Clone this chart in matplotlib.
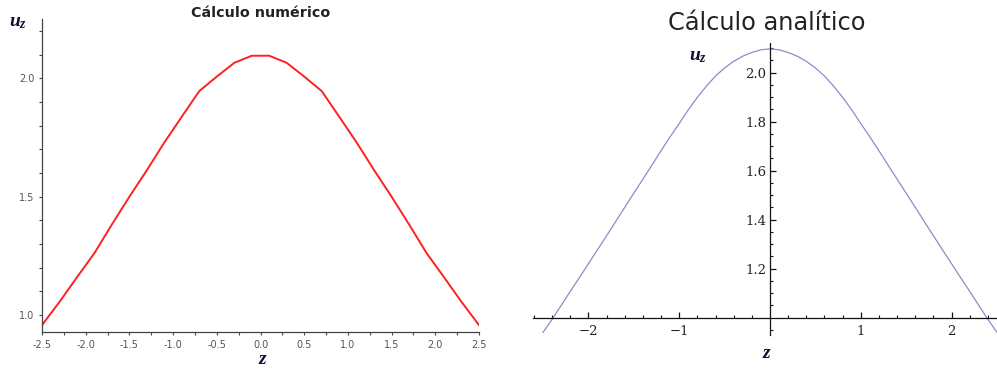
import numpy as np
import matplotlib
matplotlib.use("Agg")
import matplotlib.pyplot as plt
from matplotlib.ticker import MultipleLocator, FixedLocator

plt.rcParams['mathtext.fontset'] = 'custom'
plt.rcParams['mathtext.it'] = 'Liberation Serif:italic:bold'
plt.rcParams['mathtext.rm'] = 'Liberation Serif:bold'

# numeric solution (left)
z_num = [-2.5, -2.3, -2.1, -1.9, -1.7, -1.5, -1.3, -1.1, -0.9, -0.7, -0.5, -0.3, -0.1,
         0.1, 0.3, 0.5, 0.7, 0.9, 1.1, 1.3, 1.5, 1.7, 1.9, 2.1, 2.3, 2.5]
u_num = [0.958, 1.056, 1.160, 1.262, 1.383, 1.500, 1.612, 1.729, 1.838, 1.946, 2.007, 2.065, 2.095,
         2.095, 2.065, 2.007, 1.946, 1.838, 1.729, 1.612, 1.500, 1.383, 1.262, 1.160, 1.056, 0.958]

# analytic solution (right)
z_an = [-2.5, -2.4, -2.3, -2.2, -2.1, -2.0, -1.9, -1.8, -1.7, -1.6, -1.5, -1.4, -1.3,
        -1.2, -1.1, -1.0, -0.9, -0.8, -0.7, -0.6, -0.5, -0.4, -0.3, -0.2, -0.1, 0.0,
        0.1, 0.2, 0.3, 0.4, 0.5, 0.6, 0.7, 0.8, 0.9, 1.0, 1.1, 1.2, 1.3,
        1.4, 1.5, 1.6, 1.7, 1.8, 1.9, 2.0, 2.1, 2.2, 2.3, 2.4, 2.5]
u_an = [0.940, 0.993, 1.050, 1.107, 1.163, 1.220, 1.277, 1.334, 1.392, 1.450, 1.508, 1.565, 1.623,
        1.681, 1.738, 1.792, 1.848, 1.899, 1.945, 1.986, 2.019, 2.046, 2.067, 2.082, 2.093, 2.097,
        2.093, 2.082, 2.067, 2.046, 2.019, 1.986, 1.945, 1.899, 1.848, 1.792, 1.738, 1.681, 1.623,
        1.565, 1.508, 1.450, 1.392, 1.334, 1.277, 1.220, 1.163, 1.107, 1.050, 0.993, 0.940]

left_xticks = [-2.5, -2.0, -1.5, -1.0, -0.5, 0.0, 0.5, 1.0, 1.5, 2.0, 2.5]
left_yticks = [1.0, 1.5, 2.0]
right_xticks = [-2, -1, 1, 2]
right_xlabels = ['\u22122', '\u22121', '1', '2']
right_yticks = [1.2, 1.4, 1.6, 1.8, 2.0]

W, H = 997, 370
fig = plt.figure(figsize=(W / 100, H / 100), dpi=100)

# ---- left panel (Maple look) ----
ax1 = fig.add_axes([42 / W, 1 - 332 / H, 437 / W, 313 / H])
ax1.plot(z_num, u_num, color='#ff2020', lw=1.4)
ax1.set_xlim(-2.5, 2.5)
ax1.set_ylim(0.929, 2.25)
for s in ['top', 'right']:
    ax1.spines[s].set_visible(False)
for s in ['left', 'bottom']:
    ax1.spines[s].set_color('#444444')
    ax1.spines[s].set_linewidth(0.9)
ax1.set_xticks(left_xticks)
ax1.set_xticklabels(['%.1f' % v for v in left_xticks])
ax1.xaxis.set_minor_locator(MultipleLocator(0.25))
ax1.set_yticks(left_yticks)
ax1.set_yticklabels(['%.1f' % v for v in left_yticks])
ax1.yaxis.set_minor_locator(MultipleLocator(0.1))
ax1.tick_params(which='both', direction='out', length=2.5, width=0.8, color='#444444',
                labelsize=7, labelcolor='#555555')
ax1.tick_params(axis='x', pad=3.5)
ax1.tick_params(axis='y', pad=3)
fig.text(261 / W, 1 - 13 / H, 'Cálculo numérico', ha='center', va='center',
         fontsize=10.3, fontweight='bold', color='#222222')
fig.text(18 / W, 1 - 21 / H, r'$u_z$', ha='center', va='center', fontsize=14, color='#101030')
fig.text(263 / W, 1 - 359 / H, r'$z$', ha='center', va='center', fontsize=14, color='#101030')

# ---- right panel (Mathematica look) ----
ax2 = fig.add_axes([533 / W, 1 - 340 / H, 464 / W, 300 / H])
ax2.plot(z_an, u_an, color='#8c8cc8', lw=0.9)
ax2.set_xlim(-2.61, 2.50)
ax2.set_ylim(0.909, 2.133)
for s in ['top', 'right']:
    ax2.spines[s].set_visible(False)
ax2.spines['left'].set_position(('data', 0))
ax2.spines['bottom'].set_position(('data', 1.0))
ax2.spines['left'].set_bounds(0.93, 2.12)
for s in ['left', 'bottom']:
    ax2.spines[s].set_color('#111111')
    ax2.spines[s].set_linewidth(0.9)
ax2.set_xticks(right_xticks)
ax2.set_xticklabels(right_xlabels)
ax2.xaxis.set_minor_locator(FixedLocator([-2.6, -2.4, -2.2, -1.8, -1.6, -1.4, -1.2, -0.8, -0.6,
                                          -0.4, -0.2, 0.2, 0.4, 0.6, 0.8, 1.2, 1.4, 1.6,
                                          1.8, 2.2, 2.4]))
ax2.set_yticks(right_yticks)
ax2.set_yticklabels(['%.1f' % v for v in right_yticks])
ax2.yaxis.set_minor_locator(FixedLocator([0.95, 1.05, 1.1, 1.15, 1.25, 1.3, 1.35, 1.45, 1.5,
                                          1.55, 1.65, 1.7, 1.75, 1.85, 1.9, 1.95, 2.05, 2.1]))
ax2.tick_params(which='major', direction='in', length=4.5, width=0.9, color='#111111',
                labelsize=9.5, labelcolor='#222222')
ax2.tick_params(which='minor', direction='in', length=2.5, width=0.8, color='#111111')
ax2.tick_params(axis='x', pad=5)
ax2.tick_params(axis='y', pad=2.5)
for lab in ax2.get_xticklabels() + ax2.get_yticklabels():
    lab.set_fontfamily('DejaVu Serif')
fig.text(767 / W, 1 - 23 / H, 'Cálculo analítico', ha='center', va='center',
         fontsize=17.3, color='#222222')
fig.text(698 / W, 1 - 55 / H, r'$u_z$', ha='center', va='center', fontsize=14, color='#101030')
fig.text(767 / W, 1 - 352 / H, r'$z$', ha='center', va='center', fontsize=14, color='#101030')

fig.savefig('out.png', dpi=100)
